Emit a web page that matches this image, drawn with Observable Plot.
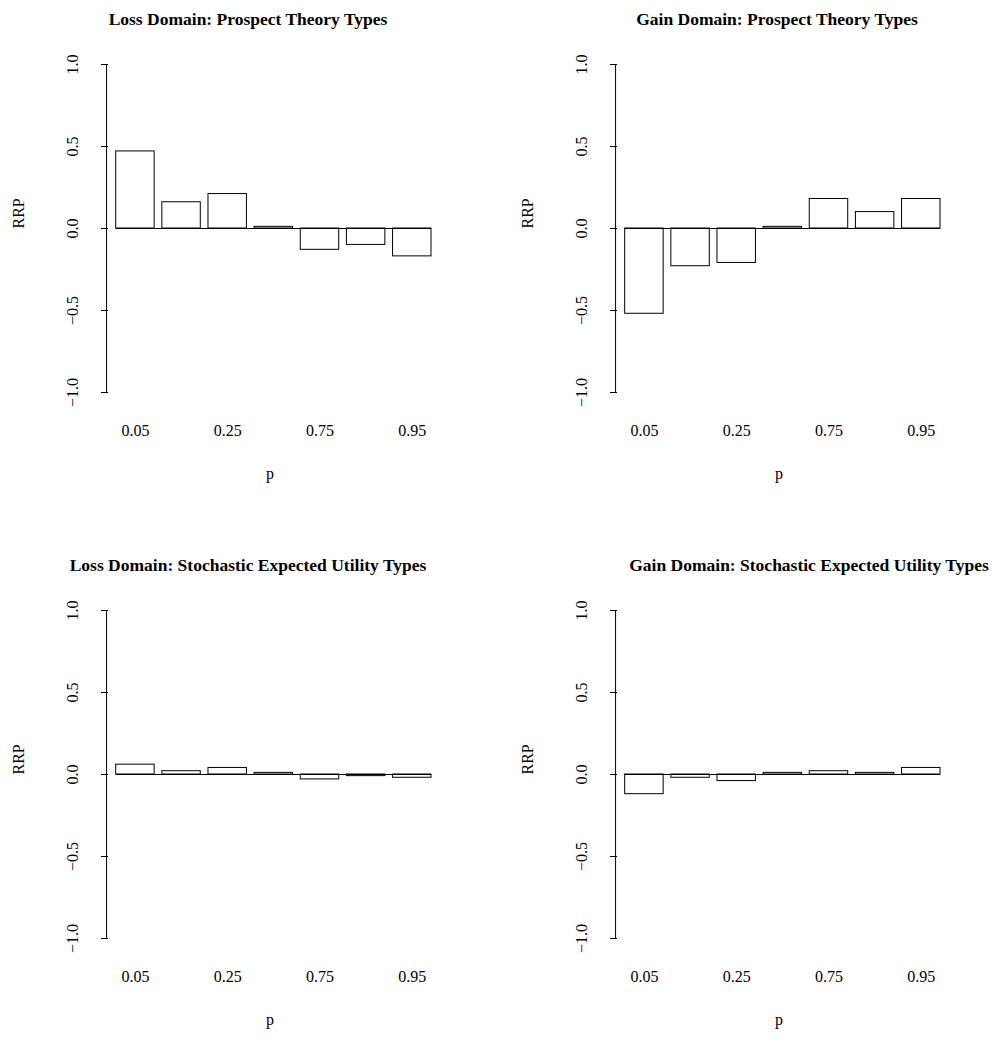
<!DOCTYPE html>
<html><head><meta charset="utf-8">
<script src="https://cdn.jsdelivr.net/npm/d3@7"></script>
<script src="https://cdn.jsdelivr.net/npm/@observablehq/plot@0.6"></script>
<style>
body{margin:0;background:#fff;width:995px;height:1042px;position:relative;overflow:hidden;font-family:"Liberation Serif",serif}
.panel{position:absolute;width:497px}
.panel svg{max-width:none;overflow:visible}
</style></head><body>
<div id="p1" class="panel" style="left:0;top:0"></div>
<div id="p2" class="panel" style="left:509px;top:0"></div>
<div id="p3" class="panel" style="left:0;top:546px"></div>
<div id="p4" class="panel" style="left:509px;top:546px"></div>
<script>
const probs = ["0.05","0.1","0.25","0.5","0.75","0.9","0.95"]
const lossPT = [0.47, 0.16, 0.21, 0.01, -0.13, -0.10, -0.17]
const gainPT = [-0.52, -0.23, -0.21, 0.01, 0.18, 0.10, 0.18]
const lossEU = [0.06, 0.02, 0.04, 0.01, -0.03, -0.01, -0.02]
const gainEU = [-0.12, -0.02, -0.04, 0.01, 0.02, 0.01, 0.04]
const titles = ["Loss Domain: Prospect Theory Types", "Gain Domain: Prospect Theory Types",
  "Loss Domain: Stochastic Expected Utility Types", "Gain Domain: Stochastic Expected Utility Types"]

function panel(id, title, values, titleShift) {
  // R barplot layout: width 1, space 0.2
  const data = values.map((v, i) => ({p: probs[i], v, x1: 0.2 + 1.2 * i, x2: 1.2 + 1.2 * i}))
  const labeled = data.filter((d, i) => i % 2 === 0)
  const chart = Plot.plot({
    width: 497, height: 496,
    marginLeft: 108, marginRight: 66, marginTop: 64, marginBottom: 104,
    x: {domain: [0, 8.4], axis: null},
    y: {domain: [-1, 1]},
    style: {fontFamily: "Liberation Serif, serif", fontSize: "16px", background: "transparent", color: "black", overflow: "visible"},
    marks: [
      Plot.rectY(data, {x1: "x1", x2: "x2", y: "v", fill: "white", stroke: "black", strokeWidth: 1}),
      Plot.ruleY([0], {x1: 0.2, x2: 8.4, stroke: "black"}),
      Plot.ruleX([-0.05], {y1: -1, y2: 1, stroke: "black"}),
      Plot.axisY({ticks: [-1, -0.5, 0, 0.5, 1], tickFormat: d3.format(".1f"), tickSize: 7, tickPadding: 24,
        tickRotate: -90, label: null, fontSize: 16}),
      Plot.text(labeled, {x: d => (d.x1 + d.x2) / 2, y: -1, text: "p", dy: 38, fontSize: 16}),
      Plot.text(["p"], {frameAnchor: "bottom", dy: 86, fontSize: 16}),
      Plot.text(["RRP"], {frameAnchor: "left", dx: -90, rotate: -90, fontSize: 16}),
      Plot.text([title], {frameAnchor: "top", dy: -52, dx: titleShift, fontWeight: "bold", fontSize: 17.5})
    ]
  })
  d3.select(id).append(() => chart)
}
panel("#p1", titles[0], lossPT, -22)
panel("#p2", titles[1], gainPT, -2)
panel("#p3", titles[2], lossEU, -22)
panel("#p4", titles[3], gainEU, 30)
</script>
</body></html>
